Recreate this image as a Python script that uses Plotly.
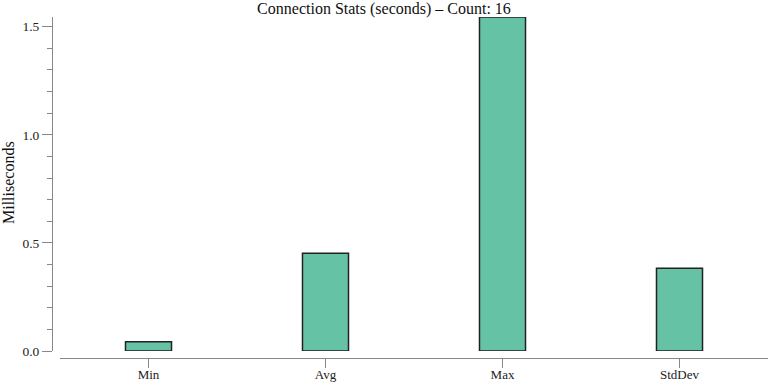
import plotly.graph_objects as go

categories = ["Min", "Avg", "Max", "StdDev"]
values = [0.043, 0.452, 1.545, 0.383]
title_text = "Connection Stats (seconds) – Count: 16"
y_title = "Milliseconds"

W, H = 768, 384
ml, mr, mt, mb = 52, 0, 17, 26
pw = W - ml - mr
ph = H - mt - mb

FONT = "Liberation Serif"
AXIS = "#888888"

fig = go.Figure()
fig.add_trace(go.Bar(
    x=categories, y=values, width=0.26,
    marker=dict(color="#66c2a5", line=dict(color="#222222", width=1.5)),
))

fig.update_layout(
    width=W, height=H,
    margin=dict(l=ml, r=mr, t=mt, b=mb, pad=0, autoexpand=False),
    paper_bgcolor="white", plot_bgcolor="white",
    showlegend=False,
    font=dict(family=FONT, size=13, color="#222222"),
    title=dict(text=title_text, x=0.5, xref="container", xanchor="center",
               y=(H - 8) / H, yref="container", yanchor="middle",
               font=dict(family=FONT, size=16, color="#111111")),
    xaxis=dict(
        domain=[8 / pw, 1], anchor="free", position=0,
        range=[-0.5, 3.5], automargin=False,
        showline=True, linecolor=AXIS, linewidth=1,
        ticks="outside", ticklen=9, tickcolor=AXIS, tickwidth=1,
        ticklabelstandoff=-5,
        showgrid=False, zeroline=False,
        tickfont=dict(family=FONT, size=13, color="#222222"),
    ),
    yaxis=dict(
        domain=[7 / ph, 1], anchor="free", position=0,
        range=[0, 1.545], automargin=False,
        showline=True, linecolor=AXIS, linewidth=1,
        ticks="outside", ticklen=10, tickcolor=AXIS, tickwidth=1,
        dtick=0.5, tick0=0, tickformat=".1f",
        minor=dict(dtick=0.1, tick0=0, ticks="outside", ticklen=5, tickcolor=AXIS, tickwidth=1, showgrid=False),
        showgrid=False, zeroline=False,
        tickfont=dict(family=FONT, size=13.5, color="#222222"),
    ),
)

fig.add_annotation(
    text=y_title, textangle=-90, showarrow=False,
    xref="paper", yref="paper",
    x=(8 - ml) / pw, y=(H - mb - 183) / ph,
    xanchor="center", yanchor="middle",
    font=dict(family=FONT, size=16, color="#111111"),
)

fig.write_html("out.html")
